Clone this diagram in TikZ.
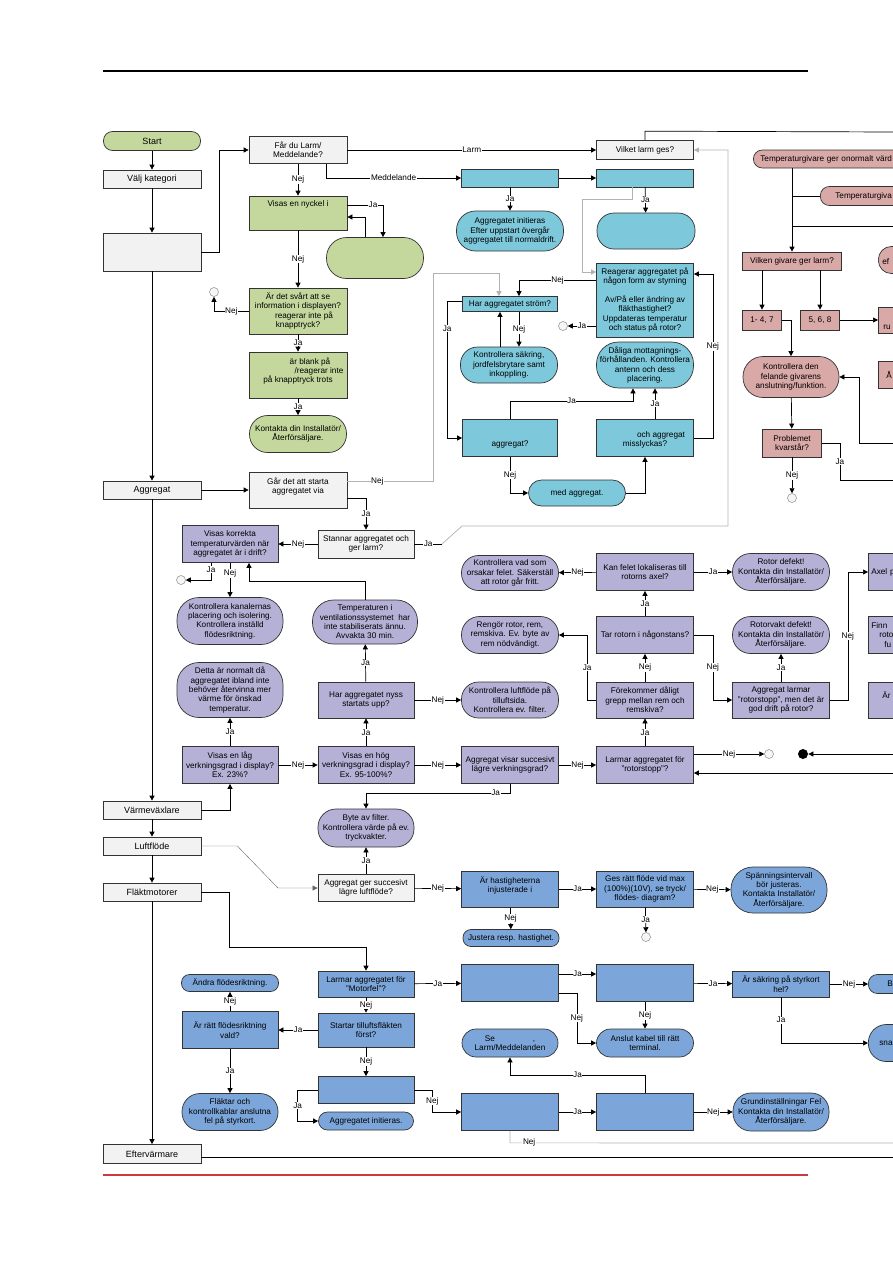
\documentclass[tikz,border=0pt]{standalone}
\usepackage{fontspec}
\setmainfont{Liberation Sans}
\usetikzlibrary{arrows.meta,shapes}
\definecolor{cGray}{HTML}{F2F2F2}
\definecolor{cGreen}{HTML}{C4D89E}
\definecolor{cCyan}{HTML}{7DC8DA}
\definecolor{cPink}{HTML}{D9A9A7}
\definecolor{cLav}{HTML}{B5B0D6}
\definecolor{cSteel}{HTML}{7CA6DA}
\definecolor{cRed}{HTML}{CC3A40}
\tikzset{
  cell/.style={draw=black!80, line width=0.7pt, inner sep=1pt, align=center, minimum width=97pt},
  wd/.style={minimum width=#1pt},
  ht/.style={minimum height=#1pt},
  pill/.style={rounded corners=#1pt},
  gry/.style={cell, fill=cGray},
  grn/.style={cell, fill=cGreen},
  cyn/.style={cell, fill=cCyan},
  pnk/.style={cell, fill=cPink},
  lav/.style={cell, fill=cLav},
  stl/.style={cell, fill=cSteel},
  cat/.style={gry, wd=98, ht=18, font=\fontsize{9}{10}\selectfont},
  cut/.style={anchor=west, align=left},
  circ/.style={circle, draw=black!45, fill=black!4, line width=0.5pt, minimum size=9pt, inner sep=0pt},
  dot/.style={circle, fill=black, minimum size=10pt, inner sep=0pt},
  arr/.style={-{Triangle[length=5pt,width=5pt]}},
  garr/.style={arr, draw=black!30},
  lbl/.style={fill=white, inner sep=0.6pt},
}
\begin{document}
\begin{tikzpicture}[x=1pt,y=-1pt,line width=0.7pt,font=\fontsize{8.2}{9.3}\selectfont]
\useasboundingbox (0,0) rectangle (893,1263);
\draw[line width=1.6pt] (103,71) -- (808,71);
\draw[line width=2.6pt,cRed] (103,1175) -- (808,1175);
% edge points
\coordinate (eTop) at (893,132);
\coordinate (eTg) at (893,226);
\coordinate (eKon) at (893,443);
\coordinate (eProb) at (893,480);
\coordinate (eDot) at (893,754);
\coordinate (eRot) at (893,773);
\coordinate (eF) at (893,1143);
\coordinate (eEft) at (893,1157);

% categories
\node[grn, pill=9, ht=19, font=\fontsize{9}{10}\selectfont] (start) at (152,141) {Start};
\node[cat] (kat) at (152,179) {Välj kategori};
\node[cat, ht=38] (blank) at (152,252) {};
\node[cat] (aggr) at (152,490) {Aggregat};
\node[cat] (varme) at (152,810) {Värmeväxlare};
\node[cat] (luft) at (152,846) {Luftflöde};
\node[cat] (flakt) at (152,892) {Fläktmotorer};
\node[cat, ht=19] (efter) at (152,1154) {Eftervärmare};

% display
\node[gry, wd=98, ht=27] (fardu) at (298,150) {Får du Larm/\\Meddelande?};
\node[grn, wd=98, ht=34] (nyckel) at (298,213) {Visas en nyckel i\\~\\~};
\node[grn, pill=20, ht=41] (grnrnd) at (375,258) {};
\node[grn, wd=98, ht=46] (svart) at (298,311) {Är det svårt att se\\information i displayen?\\\hspace*{12pt}reagerar inte på\\knapptryck?};
\node[grn, wd=98, ht=46] (blank2) at (298,375) {\hspace*{24pt}är blank på\\\hspace*{42pt}/reagerar inte\\på knapptryck trots\\~};
\node[grn, pill=18, ht=37] (kont1) at (298,434) {Kontakta din Installatör/\\Återförsäljare.};

% larm / meddelande
\node[gry, ht=19] (vilket) at (645,150) {Vilket larm ges?};
\node[cyn, ht=18] (bA) at (510,178) {};
\node[cyn, ht=18] (bB) at (645,178) {};
\node[cyn, pill=19, wd=107, ht=40] (initA) at (510,231) {Aggregatet initieras\\Efter uppstart övergår\\aggregatet till normaldrift.};
\node[cyn, pill=17, wd=98, ht=36] (rndB) at (646,231) {};
\node[cyn, ht=74] (reag) at (645,300) {Reagerar aggregatet på\\någon form av styrning\\~\\Av/På eller ändring av\\fläkthastighet?\\Uppdateras temperatur\\och status på rotor?};
\node[cyn, wd=95, ht=15] (har) at (510,304) {Har aggregatet ström?};
\node[cyn, pill=17, ht=36] (kontr) at (509,365) {Kontrollera säkring,\\jordfelsbrytare samt\\inkoppling.};
\node[cyn, pill=22, ht=46] (dalig) at (645,365) {Dåliga mottagnings-\\förhållanden. Kontrollera\\antenn och dess\\placering.};
\node[cyn, wd=95, ht=37] (aggH) at (510,438) {~\\~\\aggregat?};
\node[cyn, ht=37] (boxI) at (645,438) {~\\\hspace*{32pt}och aggregat\\misslyckas?};
\node[cyn, pill=13, ht=26] (medagg) at (577,493) {med aggregat.};
\node[circ] (c1) at (214,292) {};
\node[circ] (c2) at (563,326) {};

% aggregat
\node[gry, wd=98, ht=36] (gar) at (298,490) {Går det att starta\\aggregatet via\\~};
\node[gry, wd=96, ht=28] (stannar) at (366,544) {Stannar aggregatet och\\ger larm?};
\node[lav, wd=96, ht=37] (korrekt) at (230,544) {Visas korrekta\\temperaturvärden när\\aggregatet är i drift?};
\node[lav, pill=22, wd=106, ht=47] (kanal) at (230,621) {Kontrollera kanalernas\\placering och isolering.\\Kontrollera inställd\\flödesriktning.};
\node[lav, pill=21, wd=105, ht=44] (temp) at (365,622) {Temperaturen i\\ventilationssystemet~ har\\inte stabiliserats ännu.\\Avvakta 30 min.};
\node[circ] (c3) at (181,580) {};

% värmeväxlare
\node[lav, pill=22, wd=106, ht=55] (detta) at (230,690) {Detta är normalt då\\aggregatet ibland inte\\behöver återvinna mer\\värme för önskad\\temperatur.};
\node[lav, wd=96, ht=36] (nyss) at (366,700) {Har aggregatet nyss\\startats upp?};
\node[lav, pill=17, ht=36] (luftfl) at (510,700) {Kontrollera luftflöde på\\tilluftsida.\\Kontrollera ev. filter.};
\node[lav, wd=96, ht=37] (lag) at (230,765) {Visas en låg\\verkningsgrad i display?\\Ex. 23\%?};
\node[lav, wd=96, ht=37] (hog) at (366,765) {Visas en hög\\verkningsgrad i display?\\Ex. 95-100\%?};
\node[lav, ht=37] (succ) at (510,765) {Aggregat visar succesivt\\lägre verkningsgrad?};
\node[lav, ht=37] (rotstopp) at (645,765) {Larmar aggregatet för\\"rotorstopp"?};
\node[lav, pill=18, wd=96, ht=38] (filter) at (366,828) {Byte av filter.\\Kontrollera värde på ev.\\tryckvakter.};
\node[lav, ht=37] (kanfel) at (645,572) {Kan felet lokaliseras till\\rotorns axel?};
\node[lav, pill=17, ht=35] (vadsom) at (510,573) {Kontrollera vad som\\orsakar felet. Säkerställ\\att rotor går fritt.};
\node[lav, pill=18, ht=37] (rotdef) at (781,572) {Rotor defekt!\\Kontakta din Installatör/\\Återförsäljare.};
\node[lav, ht=37] (tar) at (645,635) {Tar rotorn i någonstans?};
\node[lav, pill=18, ht=37] (rengor) at (510,635) {Rengör rotor, rem,\\remskiva. Ev. byte av\\rem nödvändigt.};
\node[lav, pill=18, ht=37] (vakt) at (781,635) {Rotorvakt defekt!\\Kontakta din Installatör/\\Återförsäljare.};
\node[lav, ht=36] (forek) at (645,700) {Förekommer dåligt\\grepp mellan rem och\\remskiva?};
\node[lav, ht=36] (larmar) at (781,700) {Aggregat larmar\\"rotorstopp", men det är\\god drift på rotor?};
\node[lav, cut, wd=60, ht=37, text width=54pt] (axel) at (868,572) {Axel p};
\node[lav, cut, wd=60, ht=37, text width=54pt] (finn) at (868,635) {Finn\\\hspace*{8pt}roto\\\hspace*{13pt}fu};
\node[lav, cut, wd=60, ht=36, text width=54pt] (aa) at (868,700) {\hspace*{11pt}Är\\~};
\node[circ] (c4) at (769,754) {};
\node[dot] (c5) at (803,754) {};

% temperaturgivare
\node[pnk, pill=9, cut, wd=200, ht=18, text width=186pt] (tg1) at (753,159) {Temperaturgivare ger onormalt värd};
\node[pnk, pill=9, cut, wd=120, ht=19, text width=90pt] (tg2) at (820,196) {Temperaturgiva};
\node[pnk, wd=99, ht=18] (vilken) at (792,261) {Vilken givare ger larm?};
\node[pnk, wd=39, ht=20] (g147) at (762,320) {1- 4, 7};
\node[pnk, wd=39, ht=20] (g568) at (820,320) {5, 6, 8};
\node[pnk, pill=13, cut, wd=40, ht=27, text width=32pt] (ef) at (878,260) {~\\ef};
\node[pnk, cut, wd=40, ht=26, text width=30pt] (ru) at (878,320) {~\\~\\ru};
\node[pnk, cut, wd=40, ht=27, text width=32pt] (aring) at (878,375) {\hspace*{4pt}Å};
\node[pnk, pill=20, wd=96, ht=41] (kontrden) at (791,377) {Kontrollera den\\felande givarens\\anslutning/funktion.};
\node[pnk, wd=59, ht=28] (probl) at (792,443) {Problemet\\kvarstår?};
\node[circ] (c6) at (792,498) {};

% luftflöde
\node[gry, wd=96, ht=27] (aggger) at (366,888) {Aggregat ger succesivt\\lägre luftflöde?};
\node[stl, ht=36] (hast) at (510,889) {Är hastigheterna\\injusterade i\\~};
\node[stl, ht=36] (gesratt) at (645,889) {Ges rätt flöde vid max\\(100\%)(10V), se tryck/\\flödes- diagram?};
\node[stl, pill=8, wd=96, ht=17] (justera) at (511,938) {Justera resp. hastighet.};
\node[stl, pill=22, wd=96, ht=46] (spann) at (779,890) {Spänningsintervall\\bör justeras.\\Kontakta Installatör/\\Återförsäljare.};
\node[circ] (c7) at (646,937) {};

% fläktmotorer
\node[stl, wd=96, ht=26] (motorfel) at (366,984) {Larmar aggregatet för\\"Motorfel"?};
\node[stl, ht=37] (bC) at (510,983) {};
\node[stl, ht=37] (bD) at (645,983) {};
\node[stl, ht=26] (sakring) at (781,984) {Är säkring på styrkort\\hel?};
\node[stl, pill=9, cut, wd=60, ht=19, text width=52pt] (bRnd) at (868,984) {\hspace*{15pt}B};
\node[stl, pill=18, cut, wd=60, ht=37, text width=52pt] (snaRnd) at (868,1043) {\hspace*{7pt}sna};
\node[stl, pill=14, ht=28] (anslut) at (645,1043) {Anslut kabel till rätt\\terminal.};
\node[stl, pill=14, wd=96, ht=28] (seLarm) at (510,1043) {Se\hspace{38pt},\\Larm/Meddelanden};
\node[stl, wd=96, ht=34] (startar) at (366,1030) {Startar tilluftsfläkten\\först?};
\node[stl, wd=96, ht=37] (ratt) at (230,1030) {Är rätt flödesriktning\\vald?};
\node[stl, pill=8, ht=17] (andra) at (230,983) {Ändra flödesriktning.};
\node[stl, pill=18, wd=96, ht=37] (fel) at (230,1112) {Fläktar och\\kontrollkablar anslutna\\fel på styrkort.};
\node[stl, wd=96, ht=27] (bE) at (366,1090) {};
\node[stl, pill=9, wd=95, ht=18] (initE) at (366,1121) {Aggregatet initieras.};
\node[stl, ht=37] (bF) at (510,1112) {};
\node[stl, ht=37] (bG) at (645,1112) {};
\node[stl, pill=18, wd=96, ht=38] (grund) at (781,1112) {Grundinställningar Fel\\Kontakta din Installatör/\\Återförsäljare.};

% trunk
\draw[arr] (start) -- (kat);
\draw[arr] (kat) -- (blank);
\draw[arr] (blank) -- (aggr);
\draw[arr] (aggr) -- (varme);
\draw[arr] (varme) -- (luft);
\draw[arr] (luft) -- (flakt);
\draw[arr] (flakt) -- (efter);
\draw (efter.east |- eEft) -- (eEft);

% display
\draw[arr] (blank.east) -- ++(18,0) |- (fardu.west);
\draw[arr] (fardu.east) -- node[lbl]{Larm} (vilket.west);
\draw[arr] ([xshift=28pt]fardu.south) |- node[lbl,pos=0.75]{Meddelande} (bA.west);
\draw[arr] (fardu) -- node[lbl]{Nej} (nyckel);
\draw[arr] ([yshift=8pt]nyckel.east) -| node[lbl,pos=0.36]{Ja} ([xshift=8pt]grnrnd.north);
\draw[arr] ([xshift=-10pt]grnrnd.north) |- ([yshift=-4pt]nyckel.east);
\draw[arr] (nyckel) -- node[lbl]{Nej} (svart);
\draw[arr] (svart.west) -| node[lbl,pos=0.25]{Nej} (c1);
\draw[arr] (svart) -- node[lbl]{Ja} (blank2);
\draw[arr] (blank2) -- node[lbl]{Ja} (kont1);

% larm / meddelande
\draw (vilket.north) -- ++(0,-9) -- (eTop);
\draw[arr] (bA) -- (bB);
\draw[arr] (bA) -- node[lbl]{Ja} (initA);
\draw[arr] (bB) -- node[lbl]{Ja} (rndB);
\draw[garr] ([xshift=-13pt]bB.south) -- ++(0,12) -- ++(-50,0) |- ([yshift=28pt]reag.west);
\draw[arr] ([yshift=20pt]reag.west) -| node[lbl,pos=0.25]{Nej} ([xshift=9pt]har.north);
\draw[arr] ([yshift=-26pt]reag.west) -- node[lbl]{Ja} (c2);
\draw[arr] ([xshift=9pt]har.south) -- node[lbl]{Nej} ([xshift=10pt]kontr.north);
\draw[arr] ([xshift=-9pt]kontr.north) -- ([xshift=-10pt]har.south);
\draw[arr] ([yshift=3pt]har.west) -- ++(-15,0) |- node[lbl,pos=0.1]{Ja} (aggH.west);
\draw[arr] (aggH.north) -- ++(0,-18) -| node[lbl,pos=0.25]{Ja} ([xshift=-12pt]dalig.south);
\draw[arr] (aggH.south) |- node[lbl,pos=0.25]{Nej} (medagg.west);
\draw[arr] (medagg.east) -| (boxI.south);
\draw[arr] ([xshift=10pt]boxI.north) -- node[lbl]{Ja} ([xshift=10pt]dalig.south);
\draw[arr] (boxI.east) -- ++(19,0) |- node[lbl,pos=0.28]{Nej} ([yshift=26pt]reag.east);

% aggregat
\draw[arr] (aggr) -- (gar);
\draw[garr] ([yshift=9pt]gar.east) -- node[lbl,pos=0.35]{Nej} (433,481) -- (433,273) -| ([xshift=-11pt]har.north);
\draw[arr] ([yshift=-8pt]gar.east) -| node[lbl,pos=0.75]{Ja} (stannar.north);
\draw[arr] (stannar) -- node[lbl]{Nej} (korrekt);
\draw (stannar.east) -- node[lbl]{Ja} (442,544);
\draw[garr] (442,544) -- (462,526) -- (728,526) |- (vilket.east);
\draw[arr] ([xshift=-19pt]korrekt.south) |- node[lbl,pos=0.2]{Ja} (c3);
\draw[arr] (korrekt) -- node[lbl,pos=0.3]{Nej} (kanal);
\draw[arr] (temp.north) -- ++(0,-18) -| ([xshift=19pt]korrekt.south);

% värmeväxlare
\draw[arr] (varme.east) -| (lag.south);
\draw[arr] (lag) -- node[lbl]{Ja} (detta);
\draw[arr] (lag) -- node[lbl]{Nej} (hog);
\draw[arr] (hog) -- node[lbl]{Ja} (nyss);
\draw[arr] (nyss) -- node[lbl]{Ja} (temp);
\draw[arr] (nyss) -- node[lbl]{Nej} (luftfl);
\draw[arr] (hog) -- node[lbl]{Nej} (succ);
\draw[arr] (succ) -- node[lbl]{Nej} (rotstopp);
\draw[arr] (succ.south) -- ++(0,9) -| node[lbl,pos=0.05]{Ja} (filter.north);
\draw[arr] (rotstopp) -- node[lbl]{Ja} (forek);
\draw[arr] (forek) -- node[lbl]{Nej} (tar);
\draw[arr] (tar) -- node[lbl]{Ja} (kanfel);
\draw[arr] (kanfel) -- node[lbl]{Nej} (vadsom);
\draw[arr] (kanfel) -- node[lbl]{Ja} (rotdef);
\draw[arr] (forek.west) -- ++(-9,0) |- node[lbl,pos=0.25]{Ja} (rengor.east);
\draw[arr] (tar.east) -- ++(19,0) |- node[lbl,pos=0.25]{Nej} (larmar.west);
\draw[arr] (larmar) -- node[lbl]{Ja} (vakt);
\draw[arr] (larmar.east) -- ++(18,0) |- node[lbl,pos=0.25]{Nej} (axel.west);
\draw[arr] ([yshift=11pt]rotstopp.east) -- node[lbl]{Nej} (c4);
\draw[arr] (eDot) -- (c5);
\draw[arr] (eRot) -- ([yshift=-8pt]rotstopp.east);

% temperaturgivare
\draw[arr] (vilken.north |- tg1.south) -- (vilken.north);
\draw (tg2.west) -- (vilken.north |- tg2.west);
\draw (eTg) -- (vilken.north |- eTg);
\draw[arr] (vilken.south -| g147) -- (g147);
\draw[arr] (vilken.south -| g568) -- (g568);
\draw[arr] (g568) -- (ru);
\draw[arr] (g147.east) -| (kontrden.north);
\draw[arr] (kontrden) -- (probl);
\draw[arr] (eKon) -- ++(-34,0) |- (kontrden.east);
\draw[arr] (probl) -- node[lbl]{Nej} (c6);
\draw (probl.east) -- ++(18,0) |- node[lbl,pos=0.25]{Ja} (eProb);

% luftflöde
\draw[arr, line width=0.4pt, draw=black!60] (luft.east) -- ++(36,0) -- (278,888) -- (aggger.west);
\draw[arr] (aggger) -- node[lbl]{Ja} (filter);
\draw[arr] (aggger) -- node[lbl]{Nej} (hast);
\draw[arr] (hast) -- node[lbl]{Ja} (gesratt);
\draw[arr] (hast) -- node[lbl]{Nej} (justera);
\draw[arr] (gesratt) -- node[lbl]{Nej} (spann);
\draw[arr] (gesratt) -- node[lbl]{Ja} (c7);

% fläktmotorer
\draw[arr] (flakt.east) -- ++(28,0) -- ++(0,55) -| (motorfel.north);
\draw[arr] (motorfel) -- node[lbl]{Ja} (bC);
\draw[arr] ([yshift=9pt]bC.east) -- node[lbl]{Ja} ([yshift=9pt]bD.west);
\draw[arr] ([yshift=-10pt]bC.east) -- ++(18,0) |- node[lbl,pos=0.25]{Nej} (anslut.west);
\draw[arr] (bD) -- node[lbl]{Nej} (anslut);
\draw[arr] (bD) -- node[lbl]{Ja} (sakring);
\draw[arr] (sakring) -- node[lbl]{Nej} (bRnd);
\draw[arr] (sakring.south) |- node[lbl,pos=0.25]{Ja} (snaRnd.west);
\draw[arr] (motorfel) -- node[lbl]{Nej} (startar);
\draw[arr] (startar) -- node[lbl]{Ja} (ratt);
\draw[arr] (ratt) -- node[lbl]{Nej} (andra);
\draw[arr] (ratt) -- node[lbl]{Ja} (fel);
\draw[arr] (startar) -- node[lbl]{Nej} (bE);
\draw[arr] (bE.west) -- ++(-20,0) |- node[lbl,pos=0.25]{Ja} (initE.west);
\draw[arr] (bE.east) -- ++(18,0) |- node[lbl,pos=0.25]{Nej} (bF.west);
\draw[arr] (bF) -- node[lbl]{Ja} (bG);
\draw[arr] (bG) -- node[lbl]{Nej} (grund);
\draw[arr] (bG.north) -- ++(0,-18) -| node[lbl,pos=0.25]{Ja} (seLarm.south);
\draw[black!30] (bF.south) -- ++(0,12) -- node[lbl,pos=0.05,text=black]{Nej} (eF);
\end{tikzpicture}
\end{document}
